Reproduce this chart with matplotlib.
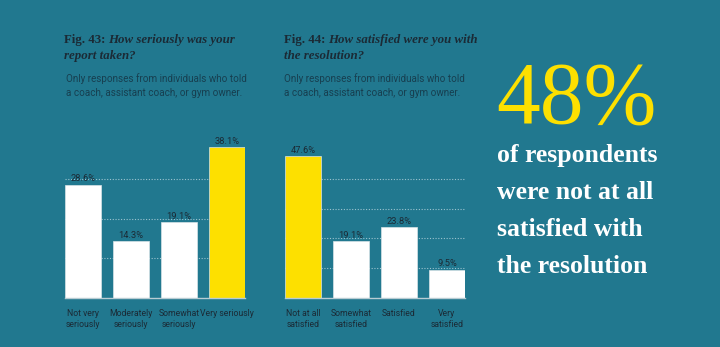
import matplotlib.pyplot as plt

# survey figures
seriousLabels = ["Not very\nseriously", "Moderately\nseriously", "Somewhat\nseriously", "Very seriously"]
seriousValues = [28.6, 14.3, 19.1, 38.1]
seriousColors = ["white", "white", "white", "#fde000"]

satisfiedLabels = ["Not at all\nsatisfied", "Somewhat\nsatisfied", "Satisfied", "Very\nsatisfied"]
satisfiedValues = [47.6, 19.1, 23.8, 9.5]
satisfiedColors = ["#fde000", "white", "white", "white"]

bg = "#21788f"
dark = "#1b2a35"
sub = "#173f50"
W, H = 720.0, 347.0

sans = "Roboto"
serif = "Liberation Serif"

fig = plt.figure(figsize=(7.2, 3.47), dpi=100, facecolor=bg)


def drawPanel(x0, x1, top, ymax, grid, labels, values, colors):
    ax = fig.add_axes([x0 / W, (H - 298) / H, (x1 - x0) / W, (298 - top) / H])
    ax.set_facecolor(bg)
    ax.set_xlim(-0.375, 3.375)
    ax.set_ylim(0, ymax)
    for g in grid:
        ax.axhline(g, color="#9cc3cf", lw=0.8, ls=(0, (1, 1.5)), zorder=0)
    ax.axhline(0, color="#b8ccd3", lw=1.0, zorder=3, clip_on=False)
    bars = ax.bar(range(len(values)), values, width=0.76, color=colors,
                  edgecolor="#d8e4e8", linewidth=0.5, zorder=2)
    for b, v in zip(bars, values):
        ax.text(b.get_x() + b.get_width() / 2, v + ymax * 0.01, f"{v}%",
                ha="center", va="bottom", color=dark, family=sans, fontsize=6.7)
    ax.set_xticks(range(len(labels)))
    ax.set_xticklabels(labels, color=dark, family=sans, fontsize=6.2, linespacing=1.3)
    ax.tick_params(axis="x", length=0, pad=8)
    ax.set_yticks([])
    for s in ax.spines.values():
        s.set_visible(False)
    return ax


drawPanel(65, 245, 139.6, 40, [10, 20, 30], seriousLabels, seriousValues, seriousColors)
drawPanel(285, 465, 149, 50, [10, 20, 30, 40], satisfiedLabels, satisfiedValues, satisfiedColors)

# headings
fig.text(64 / W, 1 - 43 / H, "Fig. 43:", fontsize=9.3, weight="bold", family=serif,
         color=dark, va="baseline")
fig.text(108 / W, 1 - 43 / H, "How seriously was your", fontsize=9.3, weight="bold",
         style="italic", family=serif, color=dark, va="baseline")
fig.text(64 / W, 1 - 59 / H, "report taken?", fontsize=9.3, weight="bold",
         style="italic", family=serif, color=dark, va="baseline")

fig.text(284 / W, 1 - 43 / H, "Fig. 44:", fontsize=9.3, weight="bold", family=serif,
         color=dark, va="baseline")
fig.text(328 / W, 1 - 43 / H, "How satisfied were you with", fontsize=9.3, weight="bold",
         style="italic", family=serif, color=dark, va="baseline")
fig.text(284 / W, 1 - 59 / H, "the resolution?", fontsize=9.3, weight="bold",
         style="italic", family=serif, color=dark, va="baseline")

for x in (66, 284):
    fig.text(x / W, 1 - 82 / H, "Only responses from individuals who told",
             family=sans, fontsize=7.1, color=sub, va="baseline")
    fig.text(x / W, 1 - 96 / H, "a coach, assistant coach, or gym owner.",
             family=sans, fontsize=7.1, color=sub, va="baseline")

# callout on the right
fig.text(496 / W, 1 - 123 / H, "48%", fontsize=63, family=serif, color="#fde000", va="baseline")
for i, line in enumerate(["of respondents", "were not at all", "satisfied with", "the resolution"]):
    fig.text(497 / W, 1 - (162 + i * 37) / H, line, fontsize=18.5, weight="bold",
             family=serif, color="white", va="baseline")

fig.savefig("out.png", dpi=100, facecolor=bg)
